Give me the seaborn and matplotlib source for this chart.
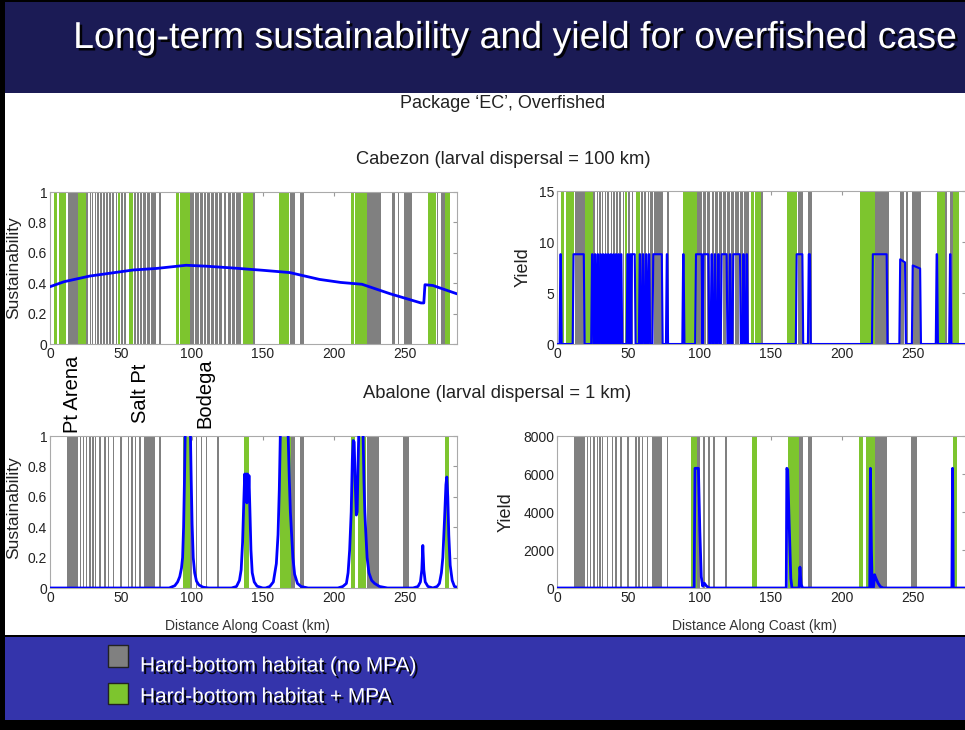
import matplotlib
matplotlib.use('Agg')
import matplotlib.pyplot as plt
import matplotlib.patheffects as pe
from matplotlib.patches import Rectangle
import seaborn as sns

# ---- data ----
# hard-bottom habitat along the coast (km), cabezon panels
cab_gray = [(12.9, 19.9), (25.5, 27.0), (28.0, 28.8), (29.8, 30.6), (31.6, 32.4), (33.4, 34.4),
            (35.4, 36.4), (37.6, 38.6), (39.6, 40.6), (41.6, 42.8), (43.8, 45.2), (46.2, 47.2),
            (50.2, 51.4), (52.4, 53.4), (59.2, 60.4), (61.4, 62.6), (63.6, 64.8), (65.6, 67.6),
            (68.2, 70.6), (71.2, 74.6), (77.0, 78.5), (98.6, 101.5), (102.5, 104.8), (105.6, 107.6),
            (108.5, 110.2), (111.0, 112.8), (113.6, 115.6), (116.5, 118.6), (119.5, 121.6),
            (122.5, 124.4), (125.3, 127.8), (128.6, 130.6), (131.4, 134.5), (143.2, 144.5),
            (169.0, 173.0), (176.3, 178.9), (223.4, 233.4), (241.0, 243.6), (245.2, 246.4),
            (249.3, 255.5), (272.7, 273.6), (275.8, 278.4)]
cab_green = [(2.8, 5.0), (6.4, 11.6), (19.9, 25.3), (47.6, 49.4), (55.8, 58.6), (88.6, 91.0),
             (91.6, 98.6), (136.4, 138.6), (139.2, 143.0), (161.4, 168.8), (212.6, 214.6),
             (215.2, 223.2), (266.8, 272.4), (278.4, 282.2)]

# abalone panels
aba_gray = [(12.2, 19.9), (20.9, 22.0), (23.0, 24.1), (25.3, 26.4), (27.8, 28.9), (29.8, 30.9),
            (31.5, 32.6), (34.8, 35.9), (38.3, 39.4), (40.8, 41.9), (44.2, 45.3), (49.4, 50.5),
            (54.8, 55.9), (57.2, 58.3), (59.6, 60.7), (63.0, 64.1), (66.4, 67.4), (67.6, 73.9),
            (77.0, 78.2), (98.6, 100.4), (102.8, 104.0), (106.3, 107.5), (109.8, 111.0),
            (118.0, 119.2), (170.2, 172.5), (176.0, 178.9), (223.5, 231.9), (248.8, 253.0)]
aba_green = [(93.9, 98.6), (136.6, 140.4), (162.4, 170.2), (212.4, 214.8), (217.1, 223.0),
             (278.2, 281.2)]

# cabezon sustainability
cab_sust_km = [0, 10, 28, 58.7, 75, 96, 110, 129, 150, 169, 190, 205, 220, 240, 261.6, 263.6,
               264.4, 270, 287]
cab_sust = [0.377, 0.41, 0.447, 0.487, 0.497, 0.518, 0.512, 0.50, 0.485, 0.47, 0.425, 0.405,
            0.393, 0.33, 0.27, 0.27, 0.39, 0.385, 0.33]

# cabezon yield pulses: (start km, end km, height at start, height at end)
cab_yield_pulses = [
    (2.4, 2.7, 8.8, 8.8), (11.6, 18.8, 8.8, 8.8),
    (24.6, 25.0, 8.8, 8.8), (26.6, 26.9, 8.8, 8.8), (28.5, 28.8, 8.8, 8.8), (30.5, 30.8, 8.8, 8.8),
    (32.3, 32.6, 8.8, 8.8), (34.1, 34.4, 8.8, 8.8), (35.9, 36.2, 8.8, 8.8), (37.7, 38.0, 8.8, 8.8),
    (39.5, 39.8, 8.8, 8.8), (41.3, 41.6, 8.8, 8.8), (43.1, 43.4, 8.8, 8.8), (44.9, 45.2, 8.8, 8.8),
    (49.5, 49.8, 8.8, 8.8), (51.3, 51.6, 8.8, 8.8), (52.6, 54.6, 8.8, 8.8),
    (58.1, 58.4, 8.8, 8.8), (60.3, 60.6, 8.8, 8.8), (62.5, 62.8, 8.8, 8.8), (64.5, 64.8, 8.8, 8.8),
    (67.6, 73.6, 8.8, 8.8), (77.1, 77.4, 8.8, 8.8), (88.6, 88.9, 8.8, 8.8),
    (97.6, 101.6, 8.8, 8.8), (102.8, 106.3, 8.8, 8.8), (108.5, 108.8, 8.8, 8.8),
    (110.8, 111.1, 8.8, 8.8), (113.2, 113.5, 8.8, 8.8), (115.6, 119.1, 8.8, 8.8),
    (121.4, 121.7, 8.8, 8.8), (123.8, 128.5, 8.8, 8.8), (130.8, 131.1, 8.8, 8.8),
    (133.1, 133.4, 8.8, 8.8), (168.3, 172.3, 8.8, 8.8), (176.8, 177.6, 8.8, 8.8),
    (221.8, 231.5, 8.8, 8.8), (241.0, 244.4, 8.3, 8.0), (249.8, 255.0, 7.7, 7.4),
    (266.6, 266.9, 8.8, 8.8), (276.0, 276.3, 8.8, 8.8)]
ramp = 0.6

# abalone sustainability
aba_sust_km = [0, 84, 88, 90, 91.5, 92.7, 93.5, 94.2, 94.8, 95.4, 96.2, 97.2, 98.2, 99.0, 99.6,
               100.2, 101, 102, 103.3, 105, 108, 112,
               128, 131.5, 133.6, 134.8, 135.8, 136.6, 137.3, 137.8, 138.3, 138.8, 139.3, 139.8,
               140.3, 141.0, 141.7, 142.6, 144.0, 146, 150,
               152, 155, 157.5, 159.6, 160.8, 161.7, 162.5, 165, 167.8, 168.8, 169.5, 170.2,
               171.3, 172.5, 174.5, 177, 182,
               203, 206.5, 209, 210.2, 211.3, 212.4, 213.2, 213.8, 214.5, 215.2, 216, 216.6,
               217.2, 217.8, 219.5, 220.7, 221.4, 222.0, 222.6, 223.6, 224.9, 226.8, 228.9,
               232.4, 238,
               256, 259.5, 261.2, 262.2, 262.9, 263.6, 264.6, 266.5,
               270, 273, 274.6, 276, 277, 278.2, 279.2, 279.8, 280.5, 281.2, 282.2, 283.6,
               285.2, 287]
aba_sust = [0, 0, 0.015, 0.04, 0.075, 0.13, 0.2, 0.4, 0.7, 1.05, 1.3, 1.2, 1.3, 1.02, 0.7,
            0.42, 0.2, 0.1, 0.045, 0.02, 0.005, 0,
            0, 0.01, 0.05, 0.12, 0.3, 0.55, 0.75, 0.62, 0.75, 0.56, 0.75, 0.58,
            0.74, 0.5, 0.25, 0.1, 0.04, 0.012, 0,
            0, 0.01, 0.04, 0.16, 0.35, 0.65, 1.05, 1.4, 1.05, 0.7, 0.5, 0.38,
            0.2, 0.09, 0.03, 0.01, 0,
            0, 0.01, 0.03, 0.1, 0.25, 0.5, 0.85, 0.97, 0.96, 0.7, 0.48, 0.5,
            0.8, 1.05, 1.3, 1.05, 0.7, 0.5, 0.38, 0.2, 0.1, 0.05, 0.03,
            0.01, 0,
            0, 0.01, 0.04, 0.12, 0.28, 0.12, 0.04, 0.01,
            0, 0.01, 0.03, 0.1, 0.2, 0.45, 0.68, 0.73, 0.6, 0.35, 0.15, 0.05,
            0.01, 0.005]

# abalone yield
aba_yield_km = [0, 96.3, 96.9, 99.3, 100.3, 101.3, 102.3, 103.5, 105, 107,
                161.0, 161.4, 162.0, 163.0, 164.2, 165, 170.0, 170.6, 171.4, 172.5,
                219.6, 220.1, 220.8, 221.4, 222.2, 223.0, 224.0, 225.5, 227, 229,
                277.3, 277.8, 278.3, 287]
aba_yield = [0, 0, 6300, 6300, 3000, 600, 100, 250, 100, 0,
             0, 6300, 6200, 3500, 500, 0, 0, 1100, 200, 0,
             0, 6300, 2000, 0, 0, 700, 500, 250, 80, 0,
             0, 6300, 0, 0]

xticks = [0, 50, 100, 150, 200, 250]
sust_ticks = [0, 0.2, 0.4, 0.6, 0.8, 1]
sust_labels = ['0', '0.2', '0.4', '0.6', '0.8', '1']
cab_yield_ticks = [0, 5, 10, 15]
aba_yield_ticks = [0, 2000, 4000, 6000, 8000]

places = ['Pt Arena', 'Salt Pt', 'Bodega']

GRAY = '#808080'
GREEN = '#7dc52e'
BLUE = '#0000ff'
NAVY = '#1b1b55'
BAND = '#3434ab'

# ---- figure ----
sns.set_style('white')
plt.rcParams['font.family'] = ['Liberation Sans', 'DejaVu Sans']

W, H = 965, 730
fig = plt.figure(figsize=(W / 100, H / 100), dpi=100)
fig.patch.set_facecolor('black')


def box(l, t, r, b):
    return [l / W, 1 - b / H, (r - l) / W, (b - t) / H]


def frect(l, t, r, b, **kw):
    fig.add_artist(Rectangle((l / W, 1 - b / H), (r - l) / W, (b - t) / H,
                             transform=fig.transFigure, **kw))


# slide background
frect(5, 2, 967, 93, facecolor=NAVY, edgecolor='none', zorder=-5)
frect(5, 93, 967, 635, facecolor='white', edgecolor='none', zorder=-5)
frect(5, 637, 967, 720, facecolor=BAND, edgecolor='none', zorder=-5)

shadow = [pe.SimplePatchShadow(offset=(1.8, -1.8), shadow_rgbFace='black', alpha=0.9), pe.Normal()]
fig.text(515 / W, 1 - 38 / H, 'Long-term sustainability and yield for overfished case',
         color='white', fontsize=27, ha='center', va='center', path_effects=shadow)

fig.text(503 / W, 1 - 103 / H, "Package \u2018EC\u2019, Overfished", fontsize=13,
         ha='center', va='center', color='#222222')
fig.text(503 / W, 1 - 159 / H, 'Cabezon (larval dispersal = 100 km)', fontsize=13.2,
         ha='center', va='center', color='#222222')
fig.text(497 / W, 1 - 394 / H, 'Abalone (larval dispersal = 1 km)', fontsize=13.2,
         ha='center', va='center', color='#222222')

ax_cs = fig.add_axes(box(50, 192, 457, 344))
ax_cy = fig.add_axes(box(557, 191, 557 + 287 * 1.424, 344))
ax_as = fig.add_axes(box(50, 436, 457, 588))
ax_ay = fig.add_axes(box(557, 436, 557 + 287 * 1.424, 588))


def habitat(ax, gray, green):
    for a, b in gray:
        ax.axvspan(a, b, color=GRAY, lw=0, zorder=1)
    for a, b in green:
        ax.axvspan(a, b, color=GREEN, lw=0, zorder=1)


def pulse_line(pulses):
    xs, ys = [0.0], [0.0]
    for s, e, h0, h1 in pulses:
        xs += [s - ramp, s, e, e + ramp]
        ys += [0, h0, h1, 0]
    xs.append(287.0)
    ys.append(0.0)
    return xs, ys


habitat(ax_cs, cab_gray, cab_green)
habitat(ax_cy, cab_gray, cab_green)
habitat(ax_as, aba_gray, aba_green)
habitat(ax_ay, aba_gray, aba_green)

sns.lineplot(x=cab_sust_km, y=cab_sust, ax=ax_cs, color=BLUE, lw=2, sort=False, estimator=None, zorder=3)
yx, yy = pulse_line(cab_yield_pulses)
sns.lineplot(x=yx, y=yy, ax=ax_cy, color=BLUE, lw=1.5, sort=False, estimator=None, zorder=3)
sns.lineplot(x=aba_sust_km, y=aba_sust, ax=ax_as, color=BLUE, lw=2, sort=False, estimator=None, zorder=3)
sns.lineplot(x=aba_yield_km, y=aba_yield, ax=ax_ay, color=BLUE, lw=2, sort=False, estimator=None, zorder=3)

for ax in (ax_cs, ax_cy, ax_as, ax_ay):
    ax.set_xlim(0, 287)
    ax.set_xticks(xticks)
    ax.tick_params(direction='in', length=3, top=True, right=True, labelsize=10,
                   pad=2, colors='#999999', labelcolor='#222222')
    for s in ax.spines.values():
        s.set_color('#aaaaaa')
        s.set_linewidth(0.8)
    ax.set_xlabel('')

for ax in (ax_cs, ax_as):
    ax.set_ylim(0, 1)
    ax.set_yticks(sust_ticks)
    ax.set_yticklabels(sust_labels)
    ax.set_ylabel('Sustainability', fontsize=12.5, color='#222222')
ax_cs.yaxis.set_label_coords(-0.072, 0.5)
ax_as.yaxis.set_label_coords(-0.072, 0.53)

ax_cy.set_ylim(0, 15)
ax_cy.set_yticks(cab_yield_ticks)
ax_cy.set_ylabel('Yield', fontsize=13, color='#222222')
ax_cy.yaxis.set_label_coords(-0.061, 0.5)

ax_ay.set_ylim(0, 8000)
ax_ay.set_yticks(aba_yield_ticks)
ax_ay.set_ylabel('Yield', fontsize=13, color='#222222')
ax_ay.yaxis.set_label_coords(-0.103, 0.5)

for ax in (ax_as, ax_ay):
    ax.set_xlabel('Distance Along Coast (km)', fontsize=10, color='#333333')
    ax.xaxis.set_label_coords(0.484, -0.205)

# place names (Bodega nudged down a little so it clears the "100" tick label)
for name, xp, yb in zip(places, [72, 140, 205], [433, 423, 428]):
    fig.text(xp / W, 1 - yb / H, name, rotation=90, fontsize=14.5, ha='center', va='bottom',
             color='black')

# legend in the bottom band
frect(108, 645, 128, 667, facecolor=GRAY, edgecolor='#222222', lw=1)
frect(108, 683, 128, 704, facecolor=GREEN, edgecolor='#222222', lw=1)
fig.text(140 / W, 1 - 666 / H, 'Hard-bottom habitat (no MPA)', color='white', fontsize=15,
         va='center', ha='left', path_effects=shadow)
fig.text(140 / W, 1 - 697 / H, 'Hard-bottom habitat + MPA', color='white', fontsize=15,
         va='center', ha='left', path_effects=shadow)

fig.savefig('out.png', dpi=100, facecolor=fig.get_facecolor())
